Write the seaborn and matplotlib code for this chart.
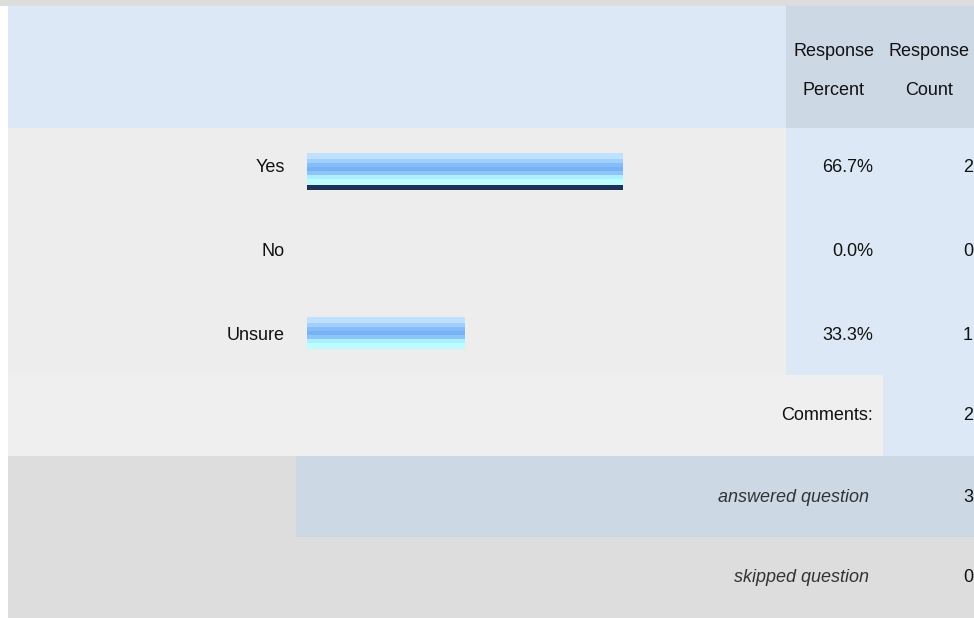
import matplotlib
matplotlib.use("Agg")
import matplotlib.pyplot as plt
from matplotlib import font_manager
from matplotlib.patches import Rectangle
import seaborn as sns
import pandas as pd

# survey answers
answer_labels = ["Yes", "No", "Unsure"]
response_percent = [66.7, 0.0, 33.3]
response_count = [2, 0, 1]

# footer figures
comments_count = 2
answered_count = 3
skipped_count = 0

header_percent = "Response\nPercent"
header_count = "Response\nCount"

# style
sns.set_style("white")
names = {f.name for f in font_manager.fontManager.ttflist}
family = "Liberation Sans Narrow" if "Liberation Sans Narrow" in names else "Liberation Sans"
plt.rcParams["font.family"] = [family, "DejaVu Sans"]

W, H = 974, 618
fig = plt.figure(figsize=(W / 100, H / 100), dpi=100)
fig.patch.set_facecolor("white")

# background table laid out in pixel units
bg = fig.add_axes([0, 0, 1, 1])
bg.set_xlim(0, W)
bg.set_ylim(H, 0)
bg.axis("off")

def cell(x0, y0, x1, y1, color):
    bg.add_patch(Rectangle((x0, y0), x1 - x0, y1 - y0, color=color, lw=0, zorder=0))

cell(0, 0, W, 6, "#dddddd")
cell(8, 6, 786, 128, "#dce8f5")
cell(786, 6, W, 128, "#cdd8e5")
cell(8, 128, 786, 375, "#ededed")
cell(786, 128, W, 456, "#dce8f5")
cell(8, 375, 883, 456, "#efefef")
cell(8, 456, 296, 537, "#dddddd")
cell(296, 456, W, 537, "#cdd8e5")
cell(8, 537, W, H, "#dddddd")

fs = 13
txt = "#111111"
cnt_x = 973

# header
bg.text(834, 71, header_percent, ha="center", va="center", fontsize=fs,
        color=txt, linespacing=2.75)
bg.text(929, 71, header_count, ha="center", va="center", fontsize=fs,
        color=txt, linespacing=2.75)

# answer rows
row_y = [167, 251, 336]
for lab, pct, cnt, y in zip(answer_labels, response_percent, response_count, row_y):
    bg.text(285, y, lab, ha="right", va="center", fontsize=fs, color=txt)
    bg.text(873, y, f"{pct:.1f}%", ha="right", va="center", fontsize=fs, color=txt)
    bg.text(cnt_x, y, str(cnt), ha="right", va="center", fontsize=fs, color=txt)

bg.text(873, 416, "Comments:", ha="right", va="center", fontsize=fs, color=txt)
bg.text(cnt_x, 416, str(comments_count), ha="right", va="center", fontsize=fs, color=txt)
bg.text(869, 497, "answered question", ha="right", va="center", fontsize=fs,
        color="#333333", style="italic")
bg.text(cnt_x, 497, str(answered_count), ha="right", va="center", fontsize=fs, color=txt)
bg.text(869, 578, "skipped question", ha="right", va="center", fontsize=fs,
        color="#333333", style="italic")
bg.text(cnt_x, 578, str(skipped_count), ha="right", va="center", fontsize=fs, color=txt)

# bar area: x 307..781 px is 0..100 %, rows 128..374 px
ax = fig.add_axes([307 / W, (H - 374) / H, 474 / W, 246 / H])
ax.patch.set_alpha(0)
df = pd.DataFrame({"answer": answer_labels, "percent": response_percent})
sns.barplot(data=df, x="percent", y="answer", orient="h", width=0.39,
            color="#c0e0ff", saturation=1, ax=ax, linewidth=0)
ax.set_xlim(0, 100)
ax.set_ylim(2.5, -0.5)
ax.axis("off")

# gradient stripes inside every bar
stripe_colors = ["#c0e0ff", "#9fd0ff", "#86bcf8", "#78b2f5", "#8cc4fb", "#aaf0ff", "#bdfcff"]
stripe_parts = [6, 4, 4, 4, 4, 4, 6]
top_pct = max(response_percent)
for p, pct in zip(ax.patches, response_percent):
    x0, y0, w, h = p.get_x(), p.get_y(), p.get_width(), p.get_height()
    if w <= 0:
        continue
    total = sum(stripe_parts)
    yy = y0
    for c, part in zip(stripe_colors, stripe_parts):
        sh = h * part / total
        ax.add_patch(Rectangle((x0, yy), w, sh, color=c, lw=0))
        yy += sh
    if pct == top_pct:
        ax.add_patch(Rectangle((x0, y0 + h), w, h * 5 / 32, color="#1c3257", lw=0))

fig.savefig("out.png", dpi=100)
